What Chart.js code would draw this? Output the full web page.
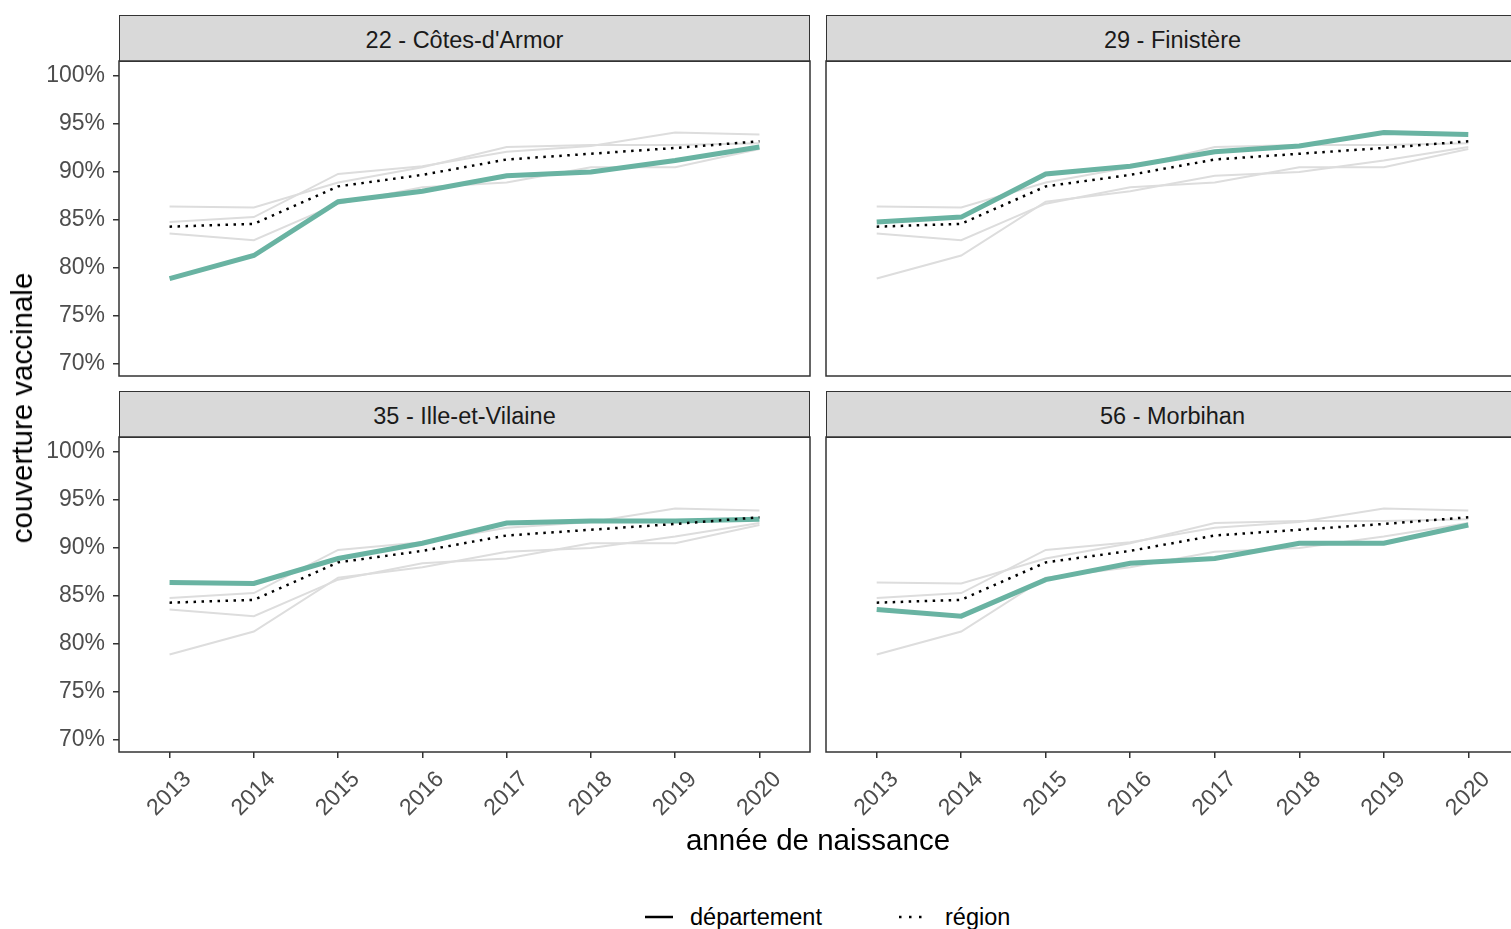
<!DOCTYPE html>
<html>
<head>
<meta charset="utf-8">
<script src="https://cdn.jsdelivr.net/npm/chart.js@4.4.1/dist/chart.umd.min.js"></script>
<style>
  body { margin: 0; width: 1511px; height: 929px; overflow: hidden; background: #fff; position: relative;
         font-family: "Liberation Sans", Arial, sans-serif; }
  canvas { position: absolute; }
  .strip { position: absolute; height: 47px; background: #d9d9d9; border: 1.5px solid #333;
           box-sizing: border-box; color: #1a1a1a; font-size: 23.5px; line-height: 48px; text-align: center; }
  .ytitle { position: absolute; left: 22px; top: 408px; font-size: 29.5px; white-space: nowrap;
            transform: translate(-50%, -50%) rotate(-90deg); }
  .xtitle { position: absolute; left: 818px; top: 840px; font-size: 29.5px; white-space: nowrap;
            transform: translate(-50%, -50%); }
  .legend { position: absolute; top: 917px; font-size: 23.5px; transform: translateY(-50%); white-space: nowrap; }
  .key { position: absolute; top: 911px; }
</style>
</head>
<body>
<div class="strip" style="left:119px;top:15px;width:691px">22 - Côtes-d'Armor</div>
<div class="strip" style="left:826px;top:15px;width:693px">29 - Finistère</div>
<div class="strip" style="left:119px;top:391px;width:691px">35 - Ille-et-Vilaine</div>
<div class="strip" style="left:826px;top:391px;width:693px">56 - Morbihan</div>

<canvas id="p22" width="820" height="330" style="left:0;top:50px"></canvas>
<canvas id="p29" width="710" height="330" style="left:820px;top:50px"></canvas>
<canvas id="p35" width="820" height="420" style="left:0;top:425px"></canvas>
<canvas id="p56" width="710" height="420" style="left:820px;top:425px"></canvas>

<div class="ytitle">couverture vaccinale</div>
<div class="xtitle">année de naissance</div>
<svg class="key" style="left:645px" width="28" height="12"><line x1="0" y1="6" x2="28" y2="6" stroke="#000" stroke-width="2.5"/></svg>
<div class="legend" style="left:690px">département</div>
<svg class="key" style="left:898px" width="28" height="12"><line x1="1" y1="6" x2="28" y2="6" stroke="#000" stroke-width="2.5" stroke-dasharray="2.5 7.5"/></svg>
<div class="legend" style="left:945px">région</div>

<script>
// années de naissance et couvertures (%)
const years = [2013, 2014, 2015, 2016, 2017, 2018, 2019, 2020];
const yTicks = [70, 75, 80, 85, 90, 95, 100];
const cotesArmor = [78.9, 81.3, 86.9, 88.0, 89.6, 90.0, 91.2, 92.6];
const finistere = [84.8, 85.3, 89.8, 90.6, 92.1, 92.7, 94.1, 93.9];
const illeEtVilaine = [86.4, 86.3, 88.9, 90.5, 92.6, 92.8, 92.8, 93.0];
const morbihan = [83.6, 82.9, 86.7, 88.4, 88.9, 90.5, 90.5, 92.4];
const bretagne = [84.3, 84.6, 88.5, 89.7, 91.3, 91.9, 92.5, 93.2];

const depts = { p22: cotesArmor, p29: finistere, p35: illeEtVilaine, p56: morbihan };
const FONT = '"Liberation Sans", Arial, sans-serif';

const pts = arr => years.map((y, i) => ({ x: y, y: arr[i] }));

// cadre du panneau
const panelBorder = {
  id: 'panelBorder',
  afterDraw(chart) {
    const { ctx, chartArea: a } = chart;
    ctx.save();
    ctx.strokeStyle = '#333';
    ctx.lineWidth = 1.5;
    ctx.strokeRect(a.left, a.top, a.right - a.left, a.bottom - a.top);
    ctx.restore();
  }
};

function makePanel(id, showY, showX) {
  const datasets = [];
  datasets.push({ data: pts(bretagne), borderColor: '#000', borderWidth: 2.5, borderDash: [2.5, 5.5], order: 0 });
  datasets.push({ data: pts(depts[id]), borderColor: '#69b3a2', borderWidth: 5, order: 1 });
  for (const k in depts) {
    if (k !== id) datasets.push({ data: pts(depts[k]), borderColor: '#dddddd', borderWidth: 2, order: 2 });
  }
  const left = id === 'p22' || id === 'p35';
  const top = id === 'p22' || id === 'p29';
  new Chart(document.getElementById(id).getContext('2d'), {
    type: 'line',
    data: { datasets },
    options: {
      responsive: false,
      animation: false,
      events: [],
      elements: { point: { radius: 0 }, line: { tension: 0, borderCapStyle: 'butt' } },
      layout: { padding: { top: top ? 11 : 12, right: left ? 10 : 11, bottom: top ? 4 : 0, left: left ? 0 : 6 } },
      plugins: { legend: { display: false }, tooltip: { enabled: false } },
      scales: {
        x: {
          type: 'linear', min: 2012.4, max: 2020.6, display: showX,
          afterBuildTicks: s => { s.ticks = years.map(v => ({ value: v })); },
          afterFit: s => {
            s.height = showX ? 93 : 0;
            s.paddingLeft = 0; s.paddingRight = 0;
          },
          border: { display: false },
          grid: { drawOnChartArea: false, drawTicks: true, tickLength: 6, color: '#333', lineWidth: 1.5 },
          ticks: { minRotation: 45, maxRotation: 45, labelOffset: 18, padding: 8, color: '#4d4d4d',
                   font: { family: FONT, size: 23 }, callback: v => String(v) }
        },
        y: {
          min: 68.75, max: 101.56, display: showY,
          afterBuildTicks: s => { s.ticks = yTicks.map(v => ({ value: v })); },
          afterFit: s => {
            s.width = showY ? 119 : 0;
            s.paddingTop = 0; s.paddingBottom = 0;
          },
          border: { display: false },
          grid: { drawOnChartArea: false, drawTicks: true, tickLength: 6, color: '#333', lineWidth: 1.5 },
          ticks: { padding: 8, color: '#4d4d4d', font: { family: FONT, size: 23 }, callback: v => v + '%' }
        }
      }
    },
    plugins: [panelBorder]
  });
}

makePanel('p22', true, false);
makePanel('p29', false, false);
makePanel('p35', true, true);
makePanel('p56', false, true);
</script>
</body>
</html>
